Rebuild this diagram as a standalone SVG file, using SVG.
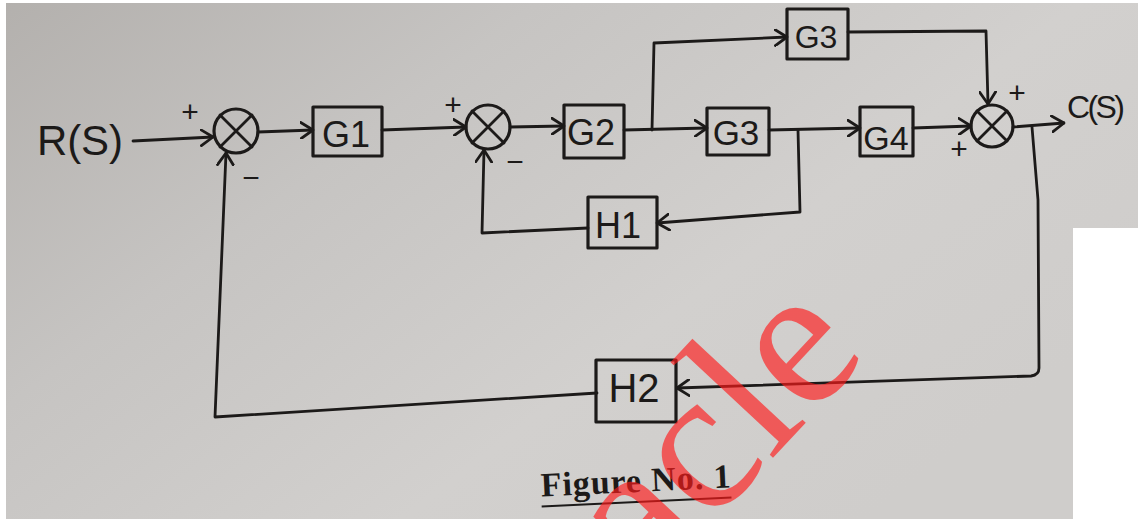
<svg xmlns="http://www.w3.org/2000/svg" width="1138" height="519" viewBox="0 0 1138 519">
<defs>
<linearGradient id="paper" x1="0" y1="0" x2="1" y2="0.6">
<stop offset="0" stop-color="#b3b0ad"/>
<stop offset="0.35" stop-color="#c6c4c2"/>
<stop offset="0.7" stop-color="#d2d0ce"/>
<stop offset="1" stop-color="#cfcdcb"/>
</linearGradient>
<marker id="arr" markerUnits="userSpaceOnUse" viewBox="0 0 14 18" refX="13" refY="9" markerWidth="14" markerHeight="18" orient="auto">
<path d="M1,1 L13,9 L1,17" fill="none" stroke="#1c1a19" stroke-width="2.8" stroke-linecap="round" stroke-linejoin="round"/>
</marker>
<style>
.ln{fill:none;stroke:#1c1a19;stroke-width:2.8;stroke-linecap:round;stroke-linejoin:round}
.bx{fill:none;stroke:#1c1a19;stroke-width:3.2;stroke-linejoin:round}
.hw{font-family:"Liberation Sans","DejaVu Sans",sans-serif;fill:#1c1a19;text-anchor:middle}
.sg{font-family:"Liberation Sans","DejaVu Sans",sans-serif;fill:#1c1a19;font-size:30px;text-anchor:middle}
.cap{font-family:"Liberation Serif","Times New Roman",serif;font-weight:bold;font-size:34px;fill:#1c1a19}
.wm{font-family:"Liberation Serif",serif;font-size:202px;fill:#ff1a1a;fill-opacity:0.65}
</style>
</defs>
<rect x="0" y="0" width="1138" height="519" fill="url(#paper)"/>
<rect x="0" y="0" width="1138" height="3" fill="#ffffff"/>
<rect x="0" y="0" width="6" height="519" fill="#ffffff"/>
<rect x="1073" y="228" width="65" height="291" fill="#ffffff"/>

<g id="connectors">
<path class="ln" d="M133,141 L213,137" marker-end="url(#arr)"/>
<path class="ln" d="M258,132 L313,130" marker-end="url(#arr)"/>
<path class="ln" d="M382,130 L466,127" marker-end="url(#arr)"/>
<path class="ln" d="M510,127 L564,126" marker-end="url(#arr)"/>
<path class="ln" d="M624,130 L707,128" marker-end="url(#arr)"/>
<path class="ln" d="M652,130 L654,43 L787,37" marker-end="url(#arr)"/>
<path class="ln" d="M848,32 L986,31 L988,104" marker-end="url(#arr)"/>
<path class="ln" d="M769,130 L860,128" marker-end="url(#arr)"/>
<path class="ln" d="M798,130 L800,212 L657,223" marker-end="url(#arr)"/>
<path class="ln" d="M588,228 L482,233 L484,150" marker-end="url(#arr)"/>
<path class="ln" d="M913,128 L971,126" marker-end="url(#arr)"/>
<path class="ln" d="M1013,127 L1064,123" marker-end="url(#arr)"/>
<path class="ln" d="M1032,127 L1038,200 L1039,368 Q1039,375 1031,376 L677,388" marker-end="url(#arr)"/>
<path class="ln" d="M597,393 L215,417 L226,153" marker-end="url(#arr)"/>
</g>

<g id="R">
<text class="hw" x="80" y="155" font-size="42" textLength="86">R(S)</text>
</g>

<g id="sum1">
<circle class="bx" cx="236" cy="131" r="22"/>
<path class="ln" d="M220,115 L252,147 M252,115 L220,147"/>
<text class="sg" x="190" y="122">+</text>
<text class="sg" x="251" y="188">−</text>
</g>

<g id="G1">
<rect class="bx" x="313" y="107" width="69" height="49"/>
<text class="hw" x="346" y="147" font-size="36">G1</text>
</g>

<g id="sum2">
<circle class="bx" cx="488" cy="127" r="22"/>
<path class="ln" d="M472,111 L504,143 M504,111 L472,143"/>
<text class="sg" x="453" y="115">+</text>
<text class="sg" x="515" y="172">−</text>
</g>

<g id="G2">
<rect class="bx" x="564" y="105" width="60" height="53"/>
<text class="hw" x="591" y="145" font-size="36">G2</text>
</g>

<g id="G3a">
<rect class="bx" x="787" y="9" width="61" height="50"/>
<text class="hw" x="816" y="48" font-size="32">G3</text>
</g>

<g id="G3b">
<rect class="bx" x="707" y="108" width="62" height="47"/>
<text class="hw" x="736" y="145" font-size="35">G3</text>
</g>

<g id="G4">
<rect class="bx" x="860" y="107" width="53" height="49"/>
<text class="hw" x="886" y="150" font-size="34">G4</text>
</g>

<g id="sum3">
<circle class="bx" cx="992" cy="126" r="21"/>
<path class="ln" d="M977,111 L1007,141 M1007,111 L977,141"/>
<text class="sg" x="1017" y="103">+</text>
<text class="sg" x="959" y="159">+</text>
</g>

<g id="C">
<text class="hw" x="1096" y="118" font-size="32" textLength="58">C(S)</text>
</g>

<g id="H1">
<rect class="bx" x="588" y="197" width="69" height="51"/>
<text class="hw" x="618" y="238" font-size="36">H1</text>
</g>

<g id="H2">
<rect class="bx" x="596" y="360" width="80" height="62"/>
<text class="hw" x="634" y="402" font-size="40">H2</text>
</g>

<g id="caption" transform="rotate(-2.7 636 490)">
<text class="cap" x="541" y="492" textLength="190">Figure No. 1</text>
<line x1="541" y1="502" x2="731" y2="502" stroke="#1c1a19" stroke-width="2"/>
</g>

<g id="watermark">
<text class="wm" x="0" y="0" transform="translate(648,592) rotate(-47)">acle</text>
</g>
</svg>
